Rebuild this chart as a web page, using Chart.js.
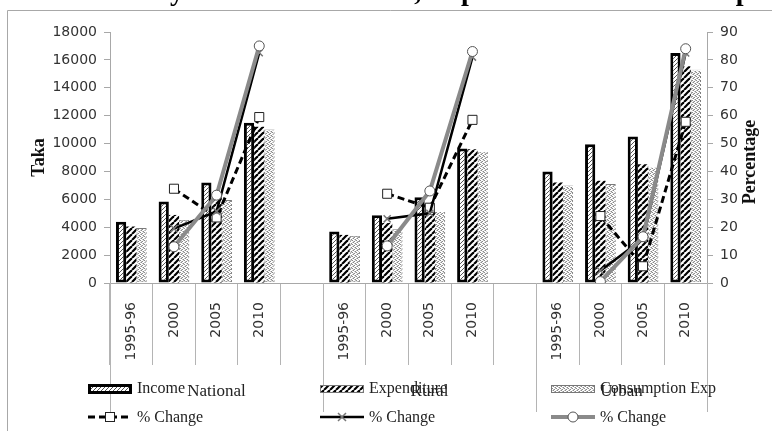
<!DOCTYPE html>
<html>
<head>
<meta charset="utf-8">
<script src="https://cdn.jsdelivr.net/npm/chart.js@4/dist/chart.umd.min.js"></script>
<style>
  html, body { margin: 0; padding: 0; background: #fff; }
  #wrap { width: 772px; height: 431px; position: relative; }
</style>
</head>
<body>
<div id="wrap"><canvas id="c" width="772" height="431"></canvas></div>
<script>
// Categories: three area groups, each 1995-96 .. 2010, separated by an empty slot
const categories = ['1995-96', '2000', '2005', '2010', '',
                    '1995-96', '2000', '2005', '2010', '',
                    '1995-96', '2000', '2005', '2010'];
const groups = ['National', 'Rural', 'Urban'];
const groupSpans = [[0, 4], [5, 9], [10, 13]];

// Monthly household figures (Taka)
const income      = [4400, 5850, 7200, 11500, null, 3700, 4850, 6150, 9650, null, 8000, 9950, 10500, 16500];
const expenditure = [4050, 4880, 6100, 11200, null, 3450, 4300, 5300, 9600, null, 7200, 7330, 8520, 15550];
const consumption = [3950, 4540, 5950, 11000, null, 3380, 3850, 5160, 9440, null, 7000, 7100, 8330, 15300];

// Percentage change over the previous survey round
const incomeChange      = [null, 33.8, 23.5, 59.5, null, null, 32.0, 27.0, 58.5, null, null, 24.0, 6.0, 57.8];
const expenditureChange = [null, 19.5, 25.7, 82.6, null, null, 23.0, 25.0, 81.0, null, null, 4.4, 15.9, 82.5];
const consumptionChange = [null, 13.0, 31.5, 85.0, null, null, 13.3, 33.0, 83.0, null, null, 0.5, 16.6, 84.0];

const leftAxis = { max: 18000, step: 2000 };
const rightAxis = { max: 90, step: 10 };

const legendRow1 = ['Income', 'Expenditure', 'Consumption Exp'];
const legendRow2 = ['% Change', '% Change', '% Change'];

const titleText = 'Monthly Household Income, Expenditure and Consumption';

const canvas = document.getElementById('c');
const ctx = canvas.getContext('2d');

function makePattern(size, paint) {
  const t = document.createElement('canvas');
  t.width = size; t.height = size;
  const g = t.getContext('2d');
  g.fillStyle = '#fff';
  g.fillRect(0, 0, size, size);
  paint(g, size);
  return ctx.createPattern(t, 'repeat');
}
function diag(g, s, w, color) {
  g.strokeStyle = color; g.lineWidth = w;
  for (const o of [-s, 0, s]) {
    g.beginPath(); g.moveTo(o, s); g.lineTo(o + s, 0); g.stroke();
  }
}
const incomeFill = makePattern(4, (g, s) => diag(g, s, 1, '#555'));
const expenditureFill = makePattern(6, (g, s) => diag(g, s, 2.2, '#000'));
const consumptionFill = makePattern(4, (g) => {
  g.fillStyle = '#8a8a8a';
  [[0, 0], [2, 1], [1, 2], [3, 3]].forEach(([x, y]) => g.fillRect(x, y, 1, 1));
  g.fillStyle = '#c4c4c4';
  [[2, 3], [0, 2], [3, 0], [1, 1]].forEach(([x, y]) => g.fillRect(x, y, 1, 1));
});
const consumptionEdge = makePattern(4, (g) => {
  g.fillStyle = '#7a7a7a';
  g.fillRect(0, 0, 4, 2);
});

const serif = 'Liberation Serif';
const tickFont = { family: 'DejaVu Sans', size: 14 };

function drawMarker(c, style, x, y) {
  c.save();
  if (style === 'rect') {
    c.fillStyle = '#fff'; c.strokeStyle = '#222'; c.lineWidth = 1;
    c.fillRect(x - 4.5, y - 4.5, 9, 9); c.strokeRect(x - 4.5, y - 4.5, 9, 9);
  } else if (style === 'crossRot') {
    c.strokeStyle = '#777'; c.lineWidth = 1.5;
    c.beginPath(); c.moveTo(x - 4, y - 4); c.lineTo(x + 4, y + 4);
    c.moveTo(x - 4, y + 4); c.lineTo(x + 4, y - 4); c.stroke();
  } else {
    c.fillStyle = '#fff'; c.strokeStyle = '#555'; c.lineWidth = 1;
    c.beginPath(); c.arc(x, y, 5, 0, Math.PI * 2); c.fill(); c.stroke();
  }
  c.restore();
}

const decor = {
  id: 'decor',
  beforeDraw(chart) {
    const c = chart.ctx;
    c.save(); c.fillStyle = '#fff'; c.fillRect(0, 0, chart.width, chart.height); c.restore();
  },
  afterDraw(chart) {
    const c = chart.ctx;
    const xs = chart.scales.x;
    const base = chart.chartArea.bottom;
    const half = (xs.getPixelForValue(1) - xs.getPixelForValue(0)) / 2;

    // outer frame
    c.save();
    c.strokeStyle = '#a8a8a8'; c.lineWidth = 1;
    c.beginPath(); c.moveTo(7.5, 440); c.lineTo(7.5, 10.5); c.lineTo(780, 10.5); c.stroke();

    // heading
    c.font = 'bold 28px "' + serif + '"';
    c.fillStyle = '#000'; c.textBaseline = 'alphabetic'; c.textAlign = 'left';
    const lead = c.measureText('Monthl').width;
    c.fillText(titleText, 170 - lead, 0);

    // group boundaries and group names
    c.strokeStyle = '#b4b4b4'; c.lineWidth = 1;
    const edges = [];
    groupSpans.forEach(([a, b]) => {
      edges.push(Math.round(xs.getPixelForValue(a) - half));
    });
    edges.push(Math.round(xs.getPixelForValue(13) + half));
    edges.forEach(px => {
      c.beginPath(); c.moveTo(px + 0.5, base); c.lineTo(px + 0.5, 412); c.stroke();
    });
    c.font = '17px "' + serif + '"';
    c.fillStyle = '#222'; c.textAlign = 'center'; c.textBaseline = 'middle';
    groups.forEach((name, i) => {
      const left = edges[i];
      const right = i < 2 ? edges[i + 1] : edges[3];
      c.fillText(name, (left + right) / 2, 392);
    });

    // right axis title
    c.save();
    c.translate(750, 162); c.rotate(-Math.PI / 2);
    c.font = 'bold 18px "' + serif + '"';
    c.fillStyle = '#111'; c.textAlign = 'center'; c.textBaseline = 'middle';
    c.fillText('Percentage', 0, 0);
    c.restore();

    // legend
    const cols = [88, 320, 551];
    const sw = 44;
    const ds = chart.data.datasets;
    const barSets = ['Income', 'Expenditure', 'Consumption Exp'].map(k => ds.find(d => d.key === k));
    const lineSets = ['inc', 'exp', 'con'].map(k => ds.find(d => d.key === k));
    c.font = '16px "' + serif + '"';
    c.textAlign = 'left'; c.textBaseline = 'alphabetic'; c.fillStyle = '#222';

    cols.forEach((x0, i) => {
      const d = barSets[i];
      if (i === 0) {
        c.fillStyle = '#000'; c.fillRect(x0, 384, sw, 10);
        c.fillStyle = d.backgroundColor; c.fillRect(x0 + 3, 387, sw - 6, 4);
      } else {
        c.fillStyle = d.backgroundColor; c.fillRect(x0, 385, sw, 8);
        c.strokeStyle = '#777'; c.lineWidth = 1;
        c.strokeRect(x0 + 0.5, 385.5, sw - 1, 7);
      }
      c.fillStyle = '#222';
      c.fillText(legendRow1[i], x0 + 49, 393);

      const l = lineSets[i];
      c.save();
      c.strokeStyle = l.borderColor; c.lineWidth = l.borderWidth;
      c.setLineDash(l.borderDash || []);
      c.beginPath(); c.moveTo(x0, 417); c.lineTo(x0 + sw, 417); c.stroke();
      c.restore();
      drawMarker(c, l.pointStyle, x0 + sw / 2, 417);
      c.fillStyle = '#222';
      c.fillText(legendRow2[i], x0 + 49, 422);
    });
    c.restore();
  }
};

new Chart(ctx, {
  type: 'bar',
  data: {
    labels: categories,
    datasets: [
      { type: 'line', key: 'con', label: '% Change', data: consumptionChange, yAxisID: 'y1', order: 0,
        borderColor: '#8a8a8a', borderWidth: 4, pointStyle: 'circle', pointRadius: 5,
        pointBackgroundColor: '#fff', pointBorderColor: '#555', pointBorderWidth: 1, spanGaps: false },
      { type: 'line', key: 'exp', label: '% Change', data: expenditureChange, yAxisID: 'y1', order: 1,
        borderColor: '#000', borderWidth: 2.5, pointStyle: 'crossRot', pointRadius: 5,
        pointBackgroundColor: '#fff', pointBorderColor: '#777', pointBorderWidth: 1.5, spanGaps: false },
      { type: 'line', key: 'inc', label: '% Change', data: incomeChange, yAxisID: 'y1', order: 2,
        borderColor: '#000', borderWidth: 3, borderDash: [7, 4], pointStyle: 'rect', pointRadius: 6.4,
        pointBackgroundColor: '#fff', pointBorderColor: '#222', pointBorderWidth: 1, spanGaps: false },
      { key: 'Income', label: 'Income', data: income, yAxisID: 'y', order: 3,
        backgroundColor: incomeFill, borderColor: '#000', borderWidth: 3, borderSkipped: false,
        barPercentage: 1, categoryPercentage: 0.72 },
      { key: 'Expenditure', label: 'Expenditure', data: expenditure, yAxisID: 'y', order: 4,
        backgroundColor: expenditureFill, borderColor: '#fff', borderWidth: 0,
        barPercentage: 1, categoryPercentage: 0.72 },
      { key: 'Consumption Exp', label: 'Consumption Exp', data: consumption, yAxisID: 'y', order: 5,
        backgroundColor: consumptionFill, borderColor: consumptionEdge, borderWidth: 1, borderSkipped: false,
        barPercentage: 1, categoryPercentage: 0.72 }
    ]
  },
  options: {
    responsive: false,
    animation: false,
    devicePixelRatio: 1,
    layout: { padding: { top: 32, left: 0, right: 0, bottom: 0 } },
    plugins: { legend: { display: false }, tooltip: { enabled: false }, title: { display: false } },
    scales: {
      x: {
        offset: true,
        grid: { offset: true, drawOnChartArea: false, drawTicks: true, tickLength: 82, color: '#b4b4b4' },
        border: { color: '#a8a8a8' },
        ticks: { autoSkip: false, minRotation: 90, maxRotation: 90, padding: -63, color: '#333', font: tickFont },
        afterFit(s) { s.height = 148; }
      },
      y: {
        position: 'left', min: 0, max: leftAxis.max,
        ticks: { stepSize: leftAxis.step, padding: 7, color: '#333', font: tickFont, callback: v => String(v) },
        grid: { drawOnChartArea: false, tickLength: 6, color: '#a8a8a8' },
        border: { color: '#a8a8a8' },
        title: { display: true, text: 'Taka', color: '#111',
                 font: { family: serif, size: 18, weight: 'bold' }, padding: { top: 29, bottom: 0 } },
        afterFit(s) { s.width = 110; }
      },
      y1: {
        position: 'right', min: 0, max: rightAxis.max,
        ticks: { stepSize: rightAxis.step, padding: 7, color: '#333', font: tickFont, callback: v => String(v) },
        grid: { drawOnChartArea: false, tickLength: 6, color: '#a8a8a8' },
        border: { color: '#a8a8a8' },
        afterFit(s) { s.width = 65; }
      }
    }
  },
  plugins: [decor]
});
</script>
</body>
</html>
